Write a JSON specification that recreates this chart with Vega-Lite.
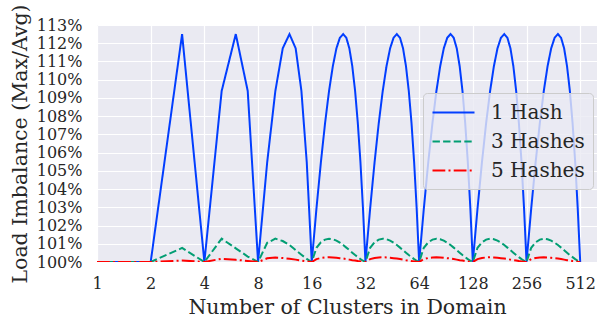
{
  "$schema": "https://vega.github.io/schema/vega-lite/v6.json",
  "width": 500,
  "height": 237,
  "autosize": "none",
  "padding": {"left": 97, "top": 25, "right": 0, "bottom": 58},
  "background": "white",
  "data": {
    "values": [
      {"n": 1, "1 Hash": 100, "3 Hashes": 100, "5 Hashes": 100},
      {"n": 2, "1 Hash": 100, "3 Hashes": 100, "5 Hashes": 100},
      {"n": 3, "1 Hash": 112.5, "3 Hashes": 100.77, "5 Hashes": 100.08},
      {"n": 4, "1 Hash": 100, "3 Hashes": 100, "5 Hashes": 100},
      {"n": 5, "1 Hash": 109.38, "3 Hashes": 101.28, "5 Hashes": 100.18},
      {"n": 6, "1 Hash": 112.5, "3 Hashes": 100.75, "5 Hashes": 100.12},
      {"n": 7, "1 Hash": 109.38, "3 Hashes": 100.3, "5 Hashes": 100.06},
      {"n": 8, "1 Hash": 100, "3 Hashes": 100, "5 Hashes": 100},
      {"n": 9, "1 Hash": 105.47, "3 Hashes": 101.05, "5 Hashes": 100.2},
      {"n": 10, "1 Hash": 109.38, "3 Hashes": 101.28, "5 Hashes": 100.24},
      {"n": 11, "1 Hash": 111.72, "3 Hashes": 101.15, "5 Hashes": 100.22},
      {"n": 12, "1 Hash": 112.5, "3 Hashes": 100.93, "5 Hashes": 100.18},
      {"n": 13, "1 Hash": 111.72, "3 Hashes": 100.65, "5 Hashes": 100.13},
      {"n": 14, "1 Hash": 109.38, "3 Hashes": 100.4, "5 Hashes": 100.08},
      {"n": 15, "1 Hash": 105.47, "3 Hashes": 100.17, "5 Hashes": 100.03},
      {"n": 16, "1 Hash": 100, "3 Hashes": 100, "5 Hashes": 100},
      {"n": 17, "1 Hash": 102.93, "3 Hashes": 100.78, "5 Hashes": 100.16},
      {"n": 18, "1 Hash": 105.47, "3 Hashes": 101.08, "5 Hashes": 100.22},
      {"n": 19, "1 Hash": 107.62, "3 Hashes": 101.23, "5 Hashes": 100.25},
      {"n": 20, "1 Hash": 109.38, "3 Hashes": 101.28, "5 Hashes": 100.26},
      {"n": 21, "1 Hash": 110.74, "3 Hashes": 101.25, "5 Hashes": 100.25},
      {"n": 22, "1 Hash": 111.72, "3 Hashes": 101.17, "5 Hashes": 100.23},
      {"n": 23, "1 Hash": 112.3, "3 Hashes": 101.06, "5 Hashes": 100.21},
      {"n": 24, "1 Hash": 112.5, "3 Hashes": 100.93, "5 Hashes": 100.19},
      {"n": 25, "1 Hash": 112.3, "3 Hashes": 100.79, "5 Hashes": 100.16},
      {"n": 26, "1 Hash": 111.72, "3 Hashes": 100.65, "5 Hashes": 100.13},
      {"n": 27, "1 Hash": 110.74, "3 Hashes": 100.51, "5 Hashes": 100.1},
      {"n": 28, "1 Hash": 109.38, "3 Hashes": 100.38, "5 Hashes": 100.08},
      {"n": 29, "1 Hash": 107.62, "3 Hashes": 100.27, "5 Hashes": 100.05},
      {"n": 30, "1 Hash": 105.47, "3 Hashes": 100.16, "5 Hashes": 100.03},
      {"n": 31, "1 Hash": 102.93, "3 Hashes": 100.07, "5 Hashes": 100.01},
      {"n": 32, "1 Hash": 100, "3 Hashes": 100, "5 Hashes": 100},
      {"n": 34, "1 Hash": 102.93, "3 Hashes": 100.78, "5 Hashes": 100.16},
      {"n": 36, "1 Hash": 105.47, "3 Hashes": 101.08, "5 Hashes": 100.22},
      {"n": 38, "1 Hash": 107.62, "3 Hashes": 101.23, "5 Hashes": 100.25},
      {"n": 40, "1 Hash": 109.38, "3 Hashes": 101.28, "5 Hashes": 100.26},
      {"n": 42, "1 Hash": 110.74, "3 Hashes": 101.25, "5 Hashes": 100.25},
      {"n": 44, "1 Hash": 111.72, "3 Hashes": 101.17, "5 Hashes": 100.23},
      {"n": 46, "1 Hash": 112.3, "3 Hashes": 101.06, "5 Hashes": 100.21},
      {"n": 48, "1 Hash": 112.5, "3 Hashes": 100.93, "5 Hashes": 100.19},
      {"n": 50, "1 Hash": 112.3, "3 Hashes": 100.79, "5 Hashes": 100.16},
      {"n": 52, "1 Hash": 111.72, "3 Hashes": 100.65, "5 Hashes": 100.13},
      {"n": 54, "1 Hash": 110.74, "3 Hashes": 100.51, "5 Hashes": 100.1},
      {"n": 56, "1 Hash": 109.38, "3 Hashes": 100.38, "5 Hashes": 100.08},
      {"n": 58, "1 Hash": 107.62, "3 Hashes": 100.27, "5 Hashes": 100.05},
      {"n": 60, "1 Hash": 105.47, "3 Hashes": 100.16, "5 Hashes": 100.03},
      {"n": 62, "1 Hash": 102.93, "3 Hashes": 100.07, "5 Hashes": 100.01},
      {"n": 64, "1 Hash": 100, "3 Hashes": 100, "5 Hashes": 100},
      {"n": 68, "1 Hash": 102.93, "3 Hashes": 100.78, "5 Hashes": 100.16},
      {"n": 72, "1 Hash": 105.47, "3 Hashes": 101.08, "5 Hashes": 100.22},
      {"n": 76, "1 Hash": 107.62, "3 Hashes": 101.23, "5 Hashes": 100.25},
      {"n": 80, "1 Hash": 109.38, "3 Hashes": 101.28, "5 Hashes": 100.26},
      {"n": 84, "1 Hash": 110.74, "3 Hashes": 101.25, "5 Hashes": 100.25},
      {"n": 88, "1 Hash": 111.72, "3 Hashes": 101.17, "5 Hashes": 100.23},
      {"n": 92, "1 Hash": 112.3, "3 Hashes": 101.06, "5 Hashes": 100.21},
      {"n": 96, "1 Hash": 112.5, "3 Hashes": 100.93, "5 Hashes": 100.19},
      {"n": 100, "1 Hash": 112.3, "3 Hashes": 100.79, "5 Hashes": 100.16},
      {"n": 104, "1 Hash": 111.72, "3 Hashes": 100.65, "5 Hashes": 100.13},
      {"n": 108, "1 Hash": 110.74, "3 Hashes": 100.51, "5 Hashes": 100.1},
      {"n": 112, "1 Hash": 109.38, "3 Hashes": 100.38, "5 Hashes": 100.08},
      {"n": 116, "1 Hash": 107.62, "3 Hashes": 100.27, "5 Hashes": 100.05},
      {"n": 120, "1 Hash": 105.47, "3 Hashes": 100.16, "5 Hashes": 100.03},
      {"n": 124, "1 Hash": 102.93, "3 Hashes": 100.07, "5 Hashes": 100.01},
      {"n": 128, "1 Hash": 100, "3 Hashes": 100, "5 Hashes": 100},
      {"n": 136, "1 Hash": 102.93, "3 Hashes": 100.78, "5 Hashes": 100.16},
      {"n": 144, "1 Hash": 105.47, "3 Hashes": 101.08, "5 Hashes": 100.22},
      {"n": 152, "1 Hash": 107.62, "3 Hashes": 101.23, "5 Hashes": 100.25},
      {"n": 160, "1 Hash": 109.38, "3 Hashes": 101.28, "5 Hashes": 100.26},
      {"n": 168, "1 Hash": 110.74, "3 Hashes": 101.25, "5 Hashes": 100.25},
      {"n": 176, "1 Hash": 111.72, "3 Hashes": 101.17, "5 Hashes": 100.23},
      {"n": 184, "1 Hash": 112.3, "3 Hashes": 101.06, "5 Hashes": 100.21},
      {"n": 192, "1 Hash": 112.5, "3 Hashes": 100.93, "5 Hashes": 100.19},
      {"n": 200, "1 Hash": 112.3, "3 Hashes": 100.79, "5 Hashes": 100.16},
      {"n": 208, "1 Hash": 111.72, "3 Hashes": 100.65, "5 Hashes": 100.13},
      {"n": 216, "1 Hash": 110.74, "3 Hashes": 100.51, "5 Hashes": 100.1},
      {"n": 224, "1 Hash": 109.38, "3 Hashes": 100.38, "5 Hashes": 100.08},
      {"n": 232, "1 Hash": 107.62, "3 Hashes": 100.27, "5 Hashes": 100.05},
      {"n": 240, "1 Hash": 105.47, "3 Hashes": 100.16, "5 Hashes": 100.03},
      {"n": 248, "1 Hash": 102.93, "3 Hashes": 100.07, "5 Hashes": 100.01},
      {"n": 256, "1 Hash": 100, "3 Hashes": 100, "5 Hashes": 100},
      {"n": 272, "1 Hash": 102.93, "3 Hashes": 100.78, "5 Hashes": 100.16},
      {"n": 288, "1 Hash": 105.47, "3 Hashes": 101.08, "5 Hashes": 100.22},
      {"n": 304, "1 Hash": 107.62, "3 Hashes": 101.23, "5 Hashes": 100.25},
      {"n": 320, "1 Hash": 109.38, "3 Hashes": 101.28, "5 Hashes": 100.26},
      {"n": 336, "1 Hash": 110.74, "3 Hashes": 101.25, "5 Hashes": 100.25},
      {"n": 352, "1 Hash": 111.72, "3 Hashes": 101.17, "5 Hashes": 100.23},
      {"n": 368, "1 Hash": 112.3, "3 Hashes": 101.06, "5 Hashes": 100.21},
      {"n": 384, "1 Hash": 112.5, "3 Hashes": 100.93, "5 Hashes": 100.19},
      {"n": 400, "1 Hash": 112.3, "3 Hashes": 100.79, "5 Hashes": 100.16},
      {"n": 416, "1 Hash": 111.72, "3 Hashes": 100.65, "5 Hashes": 100.13},
      {"n": 432, "1 Hash": 110.74, "3 Hashes": 100.51, "5 Hashes": 100.1},
      {"n": 448, "1 Hash": 109.38, "3 Hashes": 100.38, "5 Hashes": 100.08},
      {"n": 464, "1 Hash": 107.62, "3 Hashes": 100.27, "5 Hashes": 100.05},
      {"n": 480, "1 Hash": 105.47, "3 Hashes": 100.16, "5 Hashes": 100.03},
      {"n": 496, "1 Hash": 102.93, "3 Hashes": 100.07, "5 Hashes": 100.01},
      {"n": 512, "1 Hash": 100, "3 Hashes": 100, "5 Hashes": 100}
    ]
  },
  "transform": [
    {"fold": ["1 Hash", "3 Hashes", "5 Hashes"], "as": ["series", "value"]}
  ],
  "mark": {"type": "line", "clip": true, "strokeWidth": 2},
  "encoding": {
    "x": {
      "field": "n", "type": "quantitative",
      "scale": {"type": "log", "base": 2, "domain": [1, 636], "nice": false},
      "axis": {"values": [1, 2, 4, 8, 16, 32, 64, 128, 256, 512], "format": "d", "title": "Number of Clusters in Domain", "labelPadding": 13, "titlePadding": 6, "labelFlush": false,
        "labelFont": "DejaVu Serif, serif", "titleFont": "DejaVu Serif, serif", "labelFontSize": 16, "titleFontSize": 20.5}
    },
    "y": {
      "field": "value", "type": "quantitative",
      "scale": {"domain": [100, 113], "nice": false, "zero": false},
      "axis": {"values": [100, 101, 102, 103, 104, 105, 106, 107, 108, 109, 110, 111, 112, 113], "labelExpr": "datum.value + '%'", "title": "Load Imbalance (Max/Avg)", "labelPadding": 15, "titlePadding": 6,
        "labelFont": "DejaVu Serif, serif", "titleFont": "DejaVu Serif, serif", "labelFontSize": 16, "titleFontSize": 20.5}
    },
    "color": {
      "field": "series", "type": "nominal",
      "scale": {"domain": ["1 Hash", "3 Hashes", "5 Hashes"], "range": ["#023eff", "#029e73", "#ff0000"]},
      "legend": {"title": null}
    },
    "strokeDash": {
      "field": "series", "type": "nominal",
      "scale": {"domain": ["1 Hash", "3 Hashes", "5 Hashes"], "range": [[1, 0], [7.4, 3.2], [12.8, 3.2, 2, 3.2]]},
      "legend": {"title": null}
    },
    "order": {"field": "n", "type": "quantitative"}
  },
  "config": {
    "font": "DejaVu Serif, serif",
    "style": {
      "guide-label": {"font": "DejaVu Serif, serif"},
      "guide-title": {"font": "DejaVu Serif, serif"}
    },
    "view": {"fill": "#eaeaf2", "stroke": null},
    "axis": {
      "domain": false, "ticks": false,
      "grid": true, "gridColor": "white", "gridWidth": 1.2,
      "labelFont": "DejaVu Serif, serif", "labelFontSize": 16, "labelColor": "#262626",
      "titleFont": "DejaVu Serif, serif", "titleFontSize": 20.5, "titleFontWeight": "normal", "titleColor": "#262626"
    },
    "legend": {
      "orient": "none", "legendX": 326, "legendY": 68,
      "fillColor": "rgba(234,234,242,0.8)", "strokeColor": "#cccccc", "cornerRadius": 4,
      "padding": 8, "rowPadding": 7,
      "labelFont": "DejaVu Serif, serif", "labelFontSize": 20, "labelColor": "#262626", "labelOffset": 26,
      "symbolType": "M-2,0H2", "symbolSize": 441, "symbolStrokeWidth": 2, "symbolOffset": 11
    }
  }
}
